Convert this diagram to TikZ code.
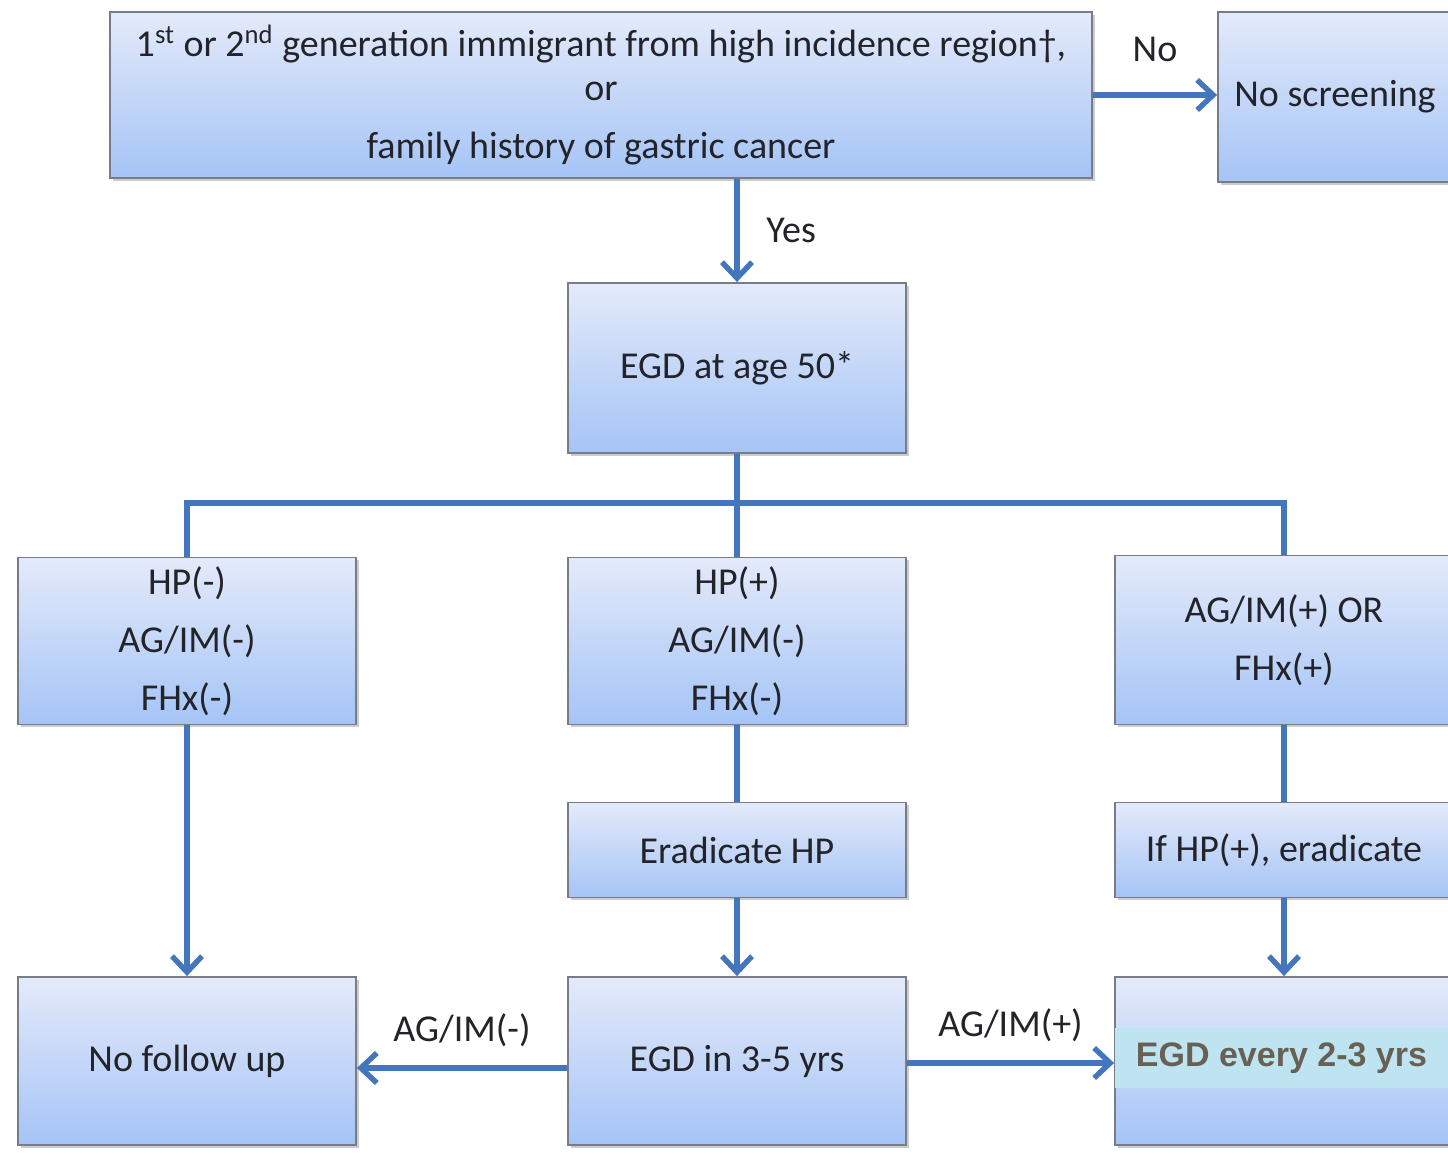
\documentclass[tikz,border=0pt]{standalone}
\usepackage{fontspec}
\setmainfont{Carlito}
\newfontfamily\notefont{Liberation Sans}
\usetikzlibrary{arrows.meta,shadows}
\definecolor{Cline}{RGB}{68,118,190}
\definecolor{Ctop}{RGB}{228,234,250}
\definecolor{Cbot}{RGB}{165,196,246}
\definecolor{Cedge}{RGB}{120,124,135}
\definecolor{Ctext}{RGB}{35,35,42}
\definecolor{Cnote}{RGB}{190,228,242}
\definecolor{Cnotetext}{RGB}{104,96,82}

\begin{document}
\begin{tikzpicture}[x=0.5pt,y=-0.5pt,
    box/.style={draw=Cedge,line width=0.9pt,top color=Ctop,bottom color=Cbot,
      drop shadow={shadow xshift=1.5pt,shadow yshift=-1.5pt,opacity=0.4},
      minimum width=169pt,inner sep=0pt,align=center,text=Ctext,
      font=\fontsize{19}{29}\selectfont},
    link/.style={Cline,line width=2.7pt},
    arr/.style={link,-{Straight Barb[length=8pt,width=15pt]}},
    lbl/.style={text=Ctext,font=\fontsize{19}{22}\selectfont}]
    \useasboundingbox (0,0) rectangle (1448,1154);
    \clip (0,0) rectangle (1448,1154);
    \fill[white] (0,0) rectangle (1448,1154);
    \node[box,minimum width=491pt,minimum height=83pt] (immig) at (601,95)
      {1\textsuperscript{st} or 2\textsuperscript{nd} generation immigrant from high incidence region†,\\[-7pt]
       or\\ family history of gastric cancer};
    \node[box,minimum width=117pt,minimum height=85pt] (noscreen) at (1335,97) {No screening};
    \node[box,minimum height=85pt] (egd50) at (737,368) {EGD at age 50*};
    \node[box,minimum height=83.5pt] (hpneg) at (187,641) {HP(-)\\AG/IM(-)\\FHx(-)};
    \node[box,minimum height=83.5pt] (hppos) at (737,641) {HP(+)\\AG/IM(-)\\FHx(-)};
    \node[box,minimum height=84.5pt] (agpos) at (1284,640) {AG/IM(+) OR\\FHx(+)};
    \node[box,minimum height=47.5pt] (erad) at (737,850) {Eradicate HP};
    \node[box,minimum height=47.5pt] (ifhp) at (1284,850) {If HP(+), eradicate};
    \node[box,minimum height=84pt] (nofollow) at (187,1061) {No follow up};
    \node[box,minimum height=84pt] (egd35) at (737,1061) {EGD in 3-5 yrs};
    \node[box,minimum height=84pt] (egd23) at (1284,1061) {};
    \node[fill=Cnote,minimum width=166.5pt,minimum height=30pt,inner sep=0pt,
      text=Cnotetext,font=\notefont\bfseries\fontsize{17}{20}\selectfont]
      (egd23txt) at (1281.5,1058) {EGD every 2-3 yrs};
    \coordinate (split) at (737,503);
    \draw[arr] (immig.east) -- (immig.east -| noscreen.west)
      node[midway,above=12pt,lbl] {No};
    \draw[arr] (immig.south -| egd50.north) -- (egd50.north)
      node[midway,right=10pt,lbl] {Yes};
    \draw[link] (egd50.south) -- (split);
    \draw[link] (hpneg.north) |- (split) -| (agpos.north);
    \draw[link] (split) -- (hppos.north);
    \draw[link] (hppos.south) -- (erad.north);
    \draw[link] (agpos.south) -- (ifhp.north);
    \draw[arr] (erad.south) -- (egd35.north);
    \draw[arr] (ifhp.south) -- (egd23.north);
    \draw[arr] (hpneg.south) -- (nofollow.north);
    \draw[arr] ([yshift=-3.5pt]egd35.west) -- ([yshift=-3.5pt]nofollow.east)
      node[midway,above=6pt,lbl] {AG/IM(-)};
    \draw[arr] ([yshift=-1pt]egd35.east) -- ([yshift=-1pt]egd23.west)
      node[midway,above=6pt,lbl] {AG/IM(+)};
  \end{tikzpicture}
\end{document}
